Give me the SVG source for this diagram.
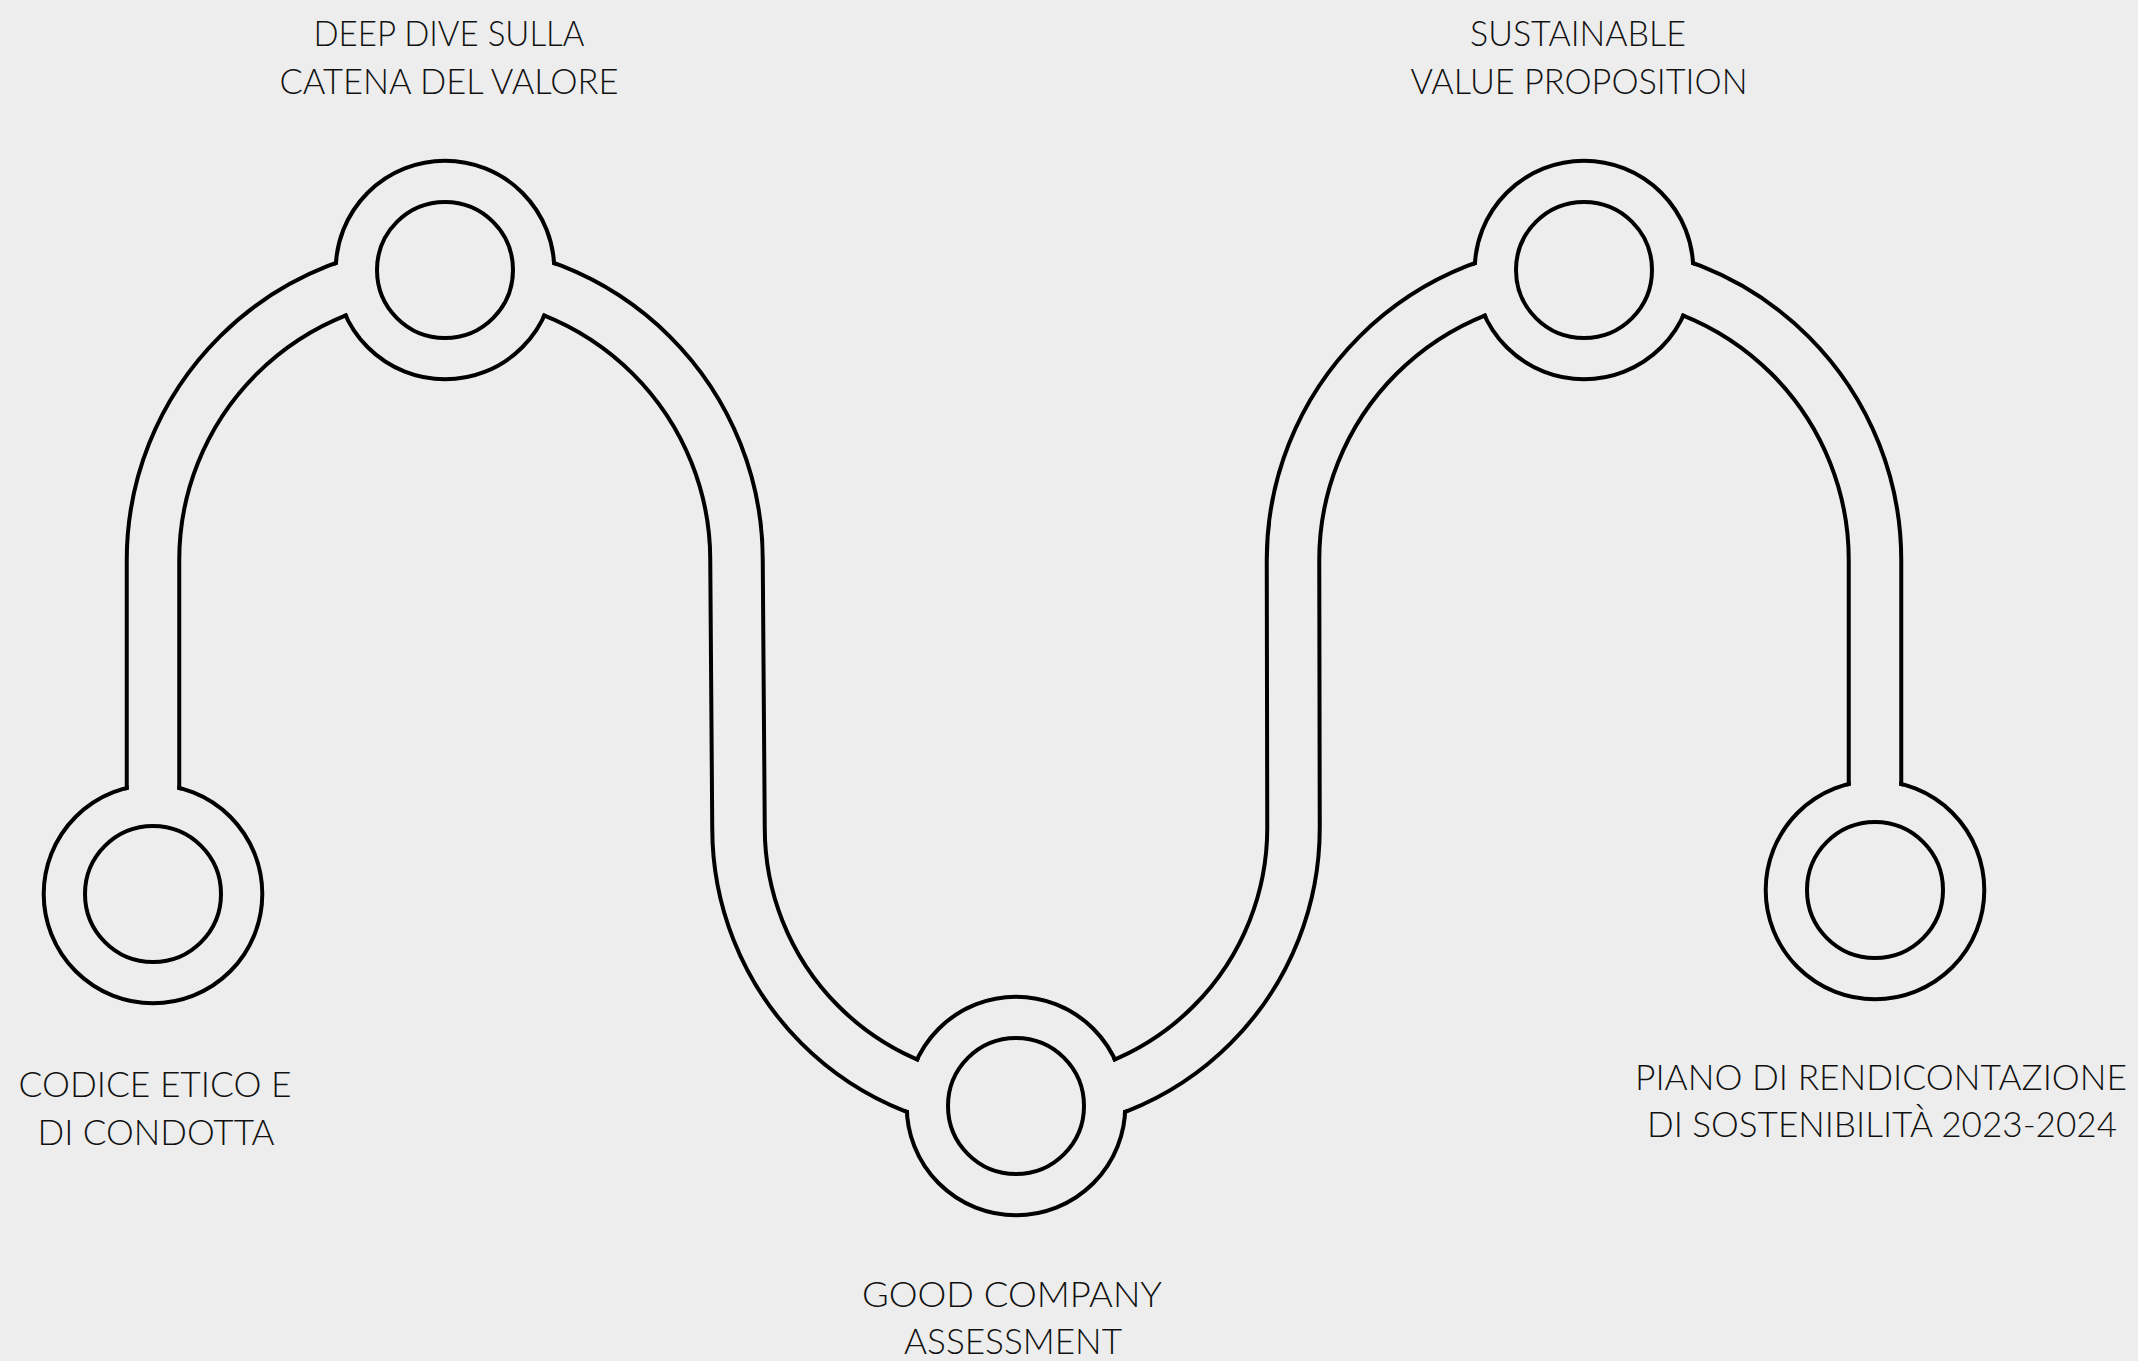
<svg xmlns="http://www.w3.org/2000/svg" width="2138" height="1361" viewBox="0 0 2138 1361">
<defs>
<style>
.bg{fill:#ededed}
.wall{fill:none;stroke:#000;stroke-width:56.5}
.inside{fill:none;stroke:#ededed;stroke-width:48.5}
.ring{fill:none;stroke:#000;stroke-width:4}
.disc{fill:#ededed}
.lbl{font-family:Lato,"Liberation Sans",sans-serif;font-weight:300;font-size:36px;fill:#111;text-anchor:middle}
</style>
<path id="route" d="M153 894 L153 560 A292 290 0 0 1 445 270 A291.5 290 0 0 1 736.5 560 L738.5 828 A277.5 278 0 0 0 1016 1106 A277.5 278 0 0 0 1293.5 828 L1293 560 A291 290 0 0 1 1584 270 A291 290 0 0 1 1875 560 L1875 890"/>
<mask id="cut" maskUnits="userSpaceOnUse" x="0" y="0" width="2138" height="1361">
<rect width="2138" height="1361" fill="#fff"/>
<use href="#route" fill="none" stroke="#000" stroke-width="48.5"/>
</mask>
</defs>
<rect class="bg" width="2138" height="1361"/>
<g id="connectors">
<use href="#route" class="wall"/>
<use href="#route" class="inside"/>
</g>
<g id="node-codice">
<circle class="disc" cx="153" cy="894" r="107.3"/>
<circle class="ring" cx="153" cy="894" r="109.3" mask="url(#cut)"/>
<circle class="ring" cx="153" cy="894" r="68"/>
<text class="lbl" x="155" y="1097" textLength="273" lengthAdjust="spacingAndGlyphs">CODICE ETICO E</text>
<text class="lbl" x="156" y="1145" textLength="237" lengthAdjust="spacingAndGlyphs">DI CONDOTTA</text>
</g>
<g id="node-deepdive">
<circle class="disc" cx="445" cy="270" r="107.3"/>
<circle class="ring" cx="445" cy="270" r="109.3" mask="url(#cut)"/>
<circle class="ring" cx="445" cy="270" r="68"/>
<text class="lbl" x="449" y="46" textLength="271" lengthAdjust="spacingAndGlyphs">DEEP DIVE SULLA</text>
<text class="lbl" x="449" y="94" textLength="339" lengthAdjust="spacingAndGlyphs">CATENA DEL VALORE</text>
</g>
<g id="node-goodcompany">
<circle class="disc" cx="1016" cy="1106" r="107.3"/>
<circle class="ring" cx="1016" cy="1106" r="109.3" mask="url(#cut)"/>
<circle class="ring" cx="1016" cy="1106" r="68"/>
<text class="lbl" x="1012" y="1307" textLength="300" lengthAdjust="spacingAndGlyphs">GOOD COMPANY</text>
<text class="lbl" x="1013" y="1354" textLength="218" lengthAdjust="spacingAndGlyphs">ASSESSMENT</text>
</g>
<g id="node-sustainable">
<circle class="disc" cx="1584" cy="270" r="107.3"/>
<circle class="ring" cx="1584" cy="270" r="109.3" mask="url(#cut)"/>
<circle class="ring" cx="1584" cy="270" r="68"/>
<text class="lbl" x="1578" y="46" textLength="216" lengthAdjust="spacingAndGlyphs">SUSTAINABLE</text>
<text class="lbl" x="1579" y="94" textLength="337" lengthAdjust="spacingAndGlyphs">VALUE PROPOSITION</text>
</g>
<g id="node-piano">
<circle class="disc" cx="1875" cy="890" r="107.3"/>
<circle class="ring" cx="1875" cy="890" r="109.3" mask="url(#cut)"/>
<circle class="ring" cx="1875" cy="890" r="68"/>
<text class="lbl" x="1881" y="1090" textLength="492" lengthAdjust="spacingAndGlyphs">PIANO DI RENDICONTAZIONE</text>
<text class="lbl" x="1882" y="1137" textLength="470" lengthAdjust="spacingAndGlyphs">DI SOSTENIBILITÀ 2023-2024</text>
</g>
</svg>
